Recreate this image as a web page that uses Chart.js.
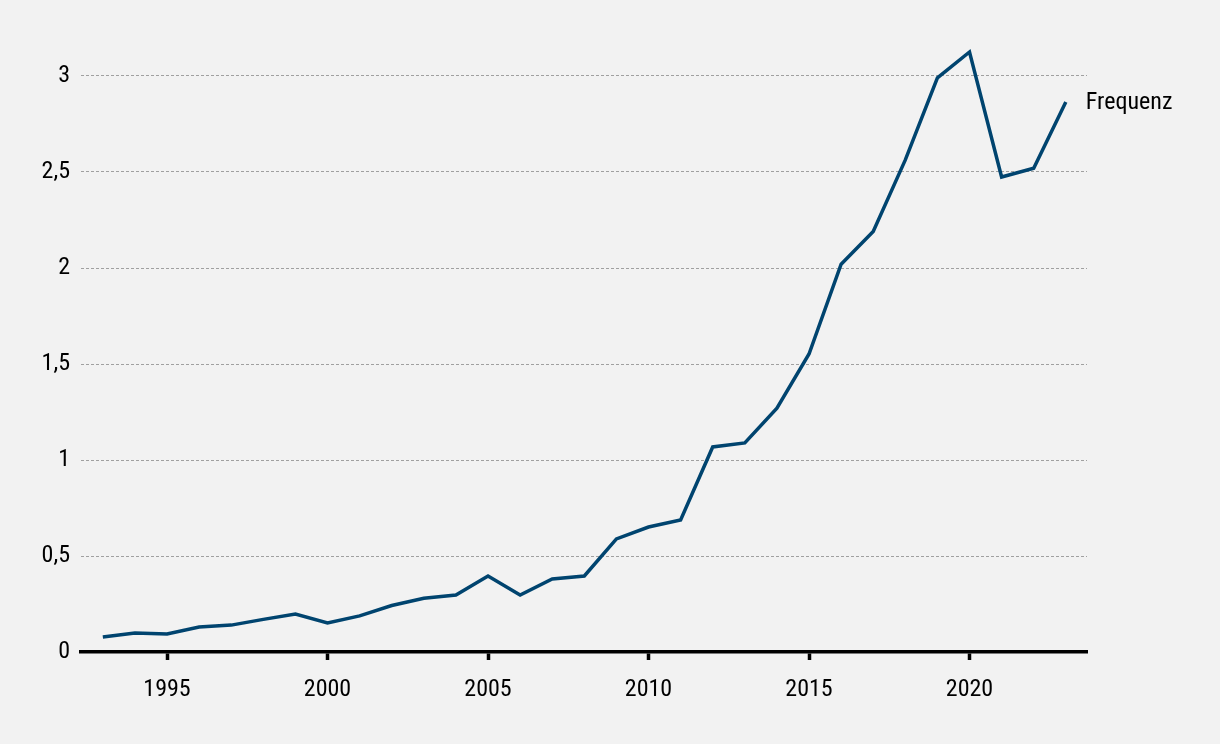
<!DOCTYPE html>
<html>
<head>
<meta charset="utf-8">
<script src="https://cdn.jsdelivr.net/npm/chart.js@4"></script>
<style>
  html, body { margin: 0; padding: 0; background: #f2f2f2; }
  #wrap { width: 1220px; height: 744px; }
</style>
</head>
<body>
<div id="wrap"><canvas id="chart"></canvas></div>
<script>
const years = [1993, 1994, 1995, 1996, 1997, 1998, 1999, 2000, 2001, 2002, 2003, 2004, 2005, 2006, 2007, 2008,
  2009, 2010, 2011, 2012, 2013, 2014, 2015, 2016, 2017, 2018, 2019, 2020, 2021, 2022, 2023];
const frequenz = [0.078, 0.099, 0.094, 0.13, 0.14, 0.17, 0.198, 0.151, 0.188, 0.242, 0.28, 0.297, 0.396, 0.297, 0.38, 0.396,
  0.589, 0.651, 0.688, 1.068, 1.089, 1.27, 1.552, 2.02, 2.19, 2.563, 2.99, 3.125, 2.474, 2.52, 2.865];
const xTicks = [1995, 2000, 2005, 2010, 2015, 2020];
const yTicks = [0, 0.5, 1, 1.5, 2, 2.5, 3];
const seriesLabel = 'Frequenz';

const fontFamily = "'Roboto Condensed', 'Liberation Sans Narrow', 'DejaVu Sans Condensed', Roboto, sans-serif";
const lineColor = '#00446f';

const endLabel = {
  id: 'endLabel',
  afterDatasetsDraw(chart) {
    const { ctx } = chart;
    const meta = chart.getDatasetMeta(0);
    const last = meta.data[meta.data.length - 1];
    ctx.save();
    ctx.font = '24px ' + fontFamily;
    ctx.fillStyle = '#000';
    ctx.textBaseline = 'middle';
    ctx.textAlign = 'left';
    ctx.fillText(seriesLabel, last.x + 20, last.y + 1);
    ctx.restore();
  }
};

new Chart(document.getElementById('chart'), {
  type: 'line',
  plugins: [endLabel],
  data: {
    datasets: [{
      label: seriesLabel,
      data: years.map((y, i) => ({ x: y, y: frequenz[i] })),
      borderColor: lineColor,
      borderWidth: 3.5,
      pointRadius: 0,
      tension: 0,
      fill: false
    }]
  },
  options: {
    responsive: true,
    maintainAspectRatio: false,
    animation: false,
    layout: { padding: { top: 28, right: 133, bottom: 0, left: 0 } },
    scales: {
      x: {
        type: 'linear',
        min: 1992.32,
        max: 2023.66,
        afterBuildTicks: (axis) => { axis.ticks = xTicks.map(v => ({ value: v })); },
        afterFit: (axis) => { axis.height = 92; },
        border: { display: true, color: '#000', width: 3.5 },
        grid: { drawOnChartArea: false, drawTicks: true, tickLength: 8, tickWidth: 3.5, tickColor: '#000' },
        ticks: {
          color: '#000',
          padding: 16,
          maxRotation: 0,
          font: { family: fontFamily, size: 24 },
          callback: (v) => String(v)
        }
      },
      y: {
        min: 0,
        max: 3.25,
        afterBuildTicks: (axis) => { axis.ticks = yTicks.map(v => ({ value: v })); },
        afterFit: (axis) => { axis.width = 81; },
        border: { display: false, dash: [3, 2] },
        grid: { color: '#a0a0a0', lineWidth: 1, drawTicks: false },
        ticks: {
          color: '#000',
          padding: 11,
          font: { family: fontFamily, size: 24 },
          callback: (v) => String(v).replace('.', ',')
        }
      }
    },
    plugins: {
      legend: { display: false },
      tooltip: { enabled: false }
    }
  }
});
</script>
</body>
</html>
